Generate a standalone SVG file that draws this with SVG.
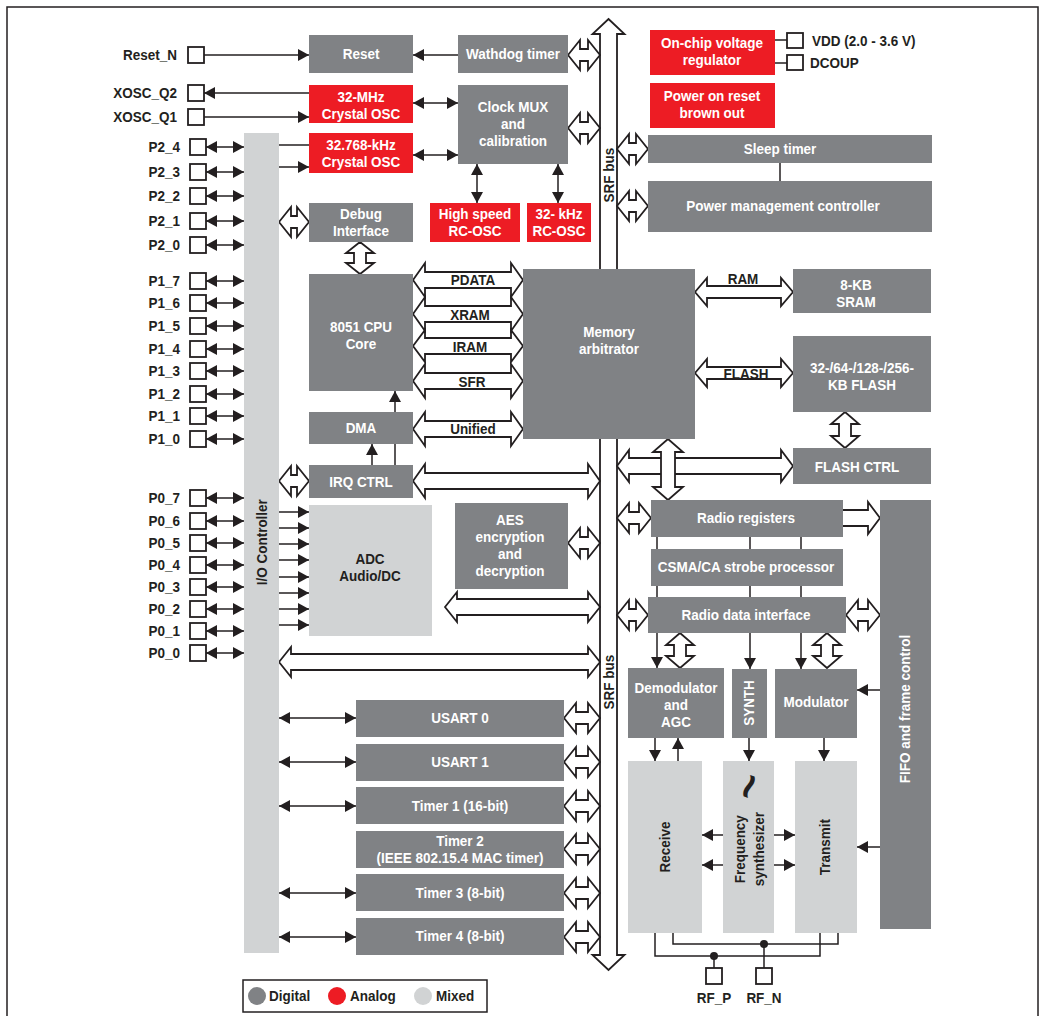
<svg xmlns="http://www.w3.org/2000/svg" width="1042" height="1016" viewBox="0 0 1042 1016">
<style>
.g{fill:#808285}.r{fill:#ED1C24}.m{fill:#D1D3D4}
.t{font-family:"Liberation Sans",Arial,sans-serif;font-weight:bold;font-size:15px;text-anchor:middle;dominant-baseline:central;transform-box:fill-box;transform-origin:center;transform:scaleX(.9)}
.e{text-anchor:end;transform-origin:right center}.s{text-anchor:start;transform-origin:left center}
.v{transform:rotate(-90deg) scaleX(.9)}
.tl{font-size:44px;transform:rotate(-70deg)}
.w{fill:#fff}.k{fill:#231f20}
.ln{stroke:#231f20;stroke-width:1.5;fill:none}
.ha{fill:#fff;stroke:#231f20;stroke-width:1.8;stroke-linejoin:miter}
.pin{fill:#fff;stroke:#231f20;stroke-width:1.8}
.ae{marker-end:url(#ah)}.ab{marker-start:url(#ah);marker-end:url(#ah)}
</style>
<defs>
<marker id="ah" viewBox="0 0 11 12" refX="11" refY="6" markerWidth="11" markerHeight="12" markerUnits="userSpaceOnUse" orient="auto-start-reverse"><path d="M0,0L11,6L0,12z" fill="#231f20"/></marker>
</defs>
<rect x="7" y="7" width="1031" height="1020" fill="#fff" stroke="#231f20" stroke-width="1.5"/>

<g id="srf-bus">
<path class="ha" d="M608.5 19 L624.5 34 L617 34 L617 955 L624.5 955 L608.5 970 L592.5 955 L600 955 L600 34 L592.5 34 Z"/>
<text class="t k v" x="608.5" y="175">SRF bus</text>
<text class="t k v" x="608.5" y="682">SRF bus</text>
</g>

<g id="connectors">
<line class="ln ae" x1="204" y1="55" x2="309" y2="55"/>
<line class="ln ae" x1="458" y1="55" x2="413" y2="55"/>
<line class="ln ae" x1="309" y1="93" x2="204" y2="93"/>
<line class="ln ae" x1="204" y1="117" x2="309" y2="117"/>
<line class="ln ab" x1="413" y1="103" x2="458" y2="103"/>
<line class="ln ab" x1="413" y1="155" x2="458" y2="155"/>
<line class="ln" x1="279" y1="145" x2="309" y2="145" stroke-width="2"/>
<line class="ln ae" x1="279" y1="167" x2="309" y2="167"/>
<line class="ln ab" x1="477" y1="164" x2="477" y2="203"/>
<line class="ln ab" x1="558" y1="164" x2="558" y2="203"/>
<line class="ln" x1="775" y1="40" x2="787" y2="40"/>
<line class="ln" x1="775" y1="63" x2="787" y2="63"/>
<line class="ln" x1="780" y1="163" x2="780" y2="181"/>
<g class="ln ab">
<line x1="206" y1="147" x2="244" y2="147"/><line x1="206" y1="172" x2="244" y2="172"/><line x1="206" y1="196" x2="244" y2="196"/><line x1="206" y1="221" x2="244" y2="221"/><line x1="206" y1="245" x2="244" y2="245"/>
<line x1="206" y1="281" x2="244" y2="281"/><line x1="206" y1="303" x2="244" y2="303"/><line x1="206" y1="326" x2="244" y2="326"/><line x1="206" y1="349" x2="244" y2="349"/><line x1="206" y1="371" x2="244" y2="371"/><line x1="206" y1="394" x2="244" y2="394"/><line x1="206" y1="416" x2="244" y2="416"/><line x1="206" y1="439" x2="244" y2="439"/>
<line x1="206" y1="498" x2="244" y2="498"/><line x1="206" y1="521" x2="244" y2="521"/><line x1="206" y1="543" x2="244" y2="543"/><line x1="206" y1="565" x2="244" y2="565"/><line x1="206" y1="587" x2="244" y2="587"/><line x1="206" y1="609" x2="244" y2="609"/><line x1="206" y1="631" x2="244" y2="631"/><line x1="206" y1="653" x2="244" y2="653"/>
<line x1="279" y1="718" x2="356" y2="718"/><line x1="279" y1="762" x2="356" y2="762"/><line x1="279" y1="806" x2="356" y2="806"/><line x1="279" y1="893" x2="356" y2="893"/><line x1="279" y1="937" x2="356" y2="937"/>
</g>
<g class="ln ae">
<line x1="279" y1="512" x2="309" y2="512"/><line x1="279" y1="528" x2="309" y2="528"/><line x1="279" y1="544" x2="309" y2="544"/><line x1="279" y1="560" x2="309" y2="560"/><line x1="279" y1="577" x2="309" y2="577"/><line x1="279" y1="593" x2="309" y2="593"/><line x1="279" y1="609" x2="309" y2="609"/><line x1="279" y1="625" x2="309" y2="625"/>
</g>
<line class="ln ae" x1="395" y1="412" x2="395" y2="391"/>
<line class="ln" x1="395" y1="465" x2="395" y2="444"/>
<line class="ln ae" x1="372" y1="465" x2="372" y2="444"/>
<path class="ha" d="M568 55 L580 40 L580 49 L588 49 L588 40 L600 55 L588 70 L588 61 L580 61 L580 70 Z"/>
<path class="ha" d="M568 128 L580 113 L580 122 L588 122 L588 113 L600 128 L588 143 L588 134 L580 134 L580 143 Z"/>
<path class="ha" d="M617 149 L629 134 L629 143 L636 143 L636 134 L648 149 L636 164 L636 155 L629 155 L629 164 Z"/>
<path class="ha" d="M617 206 L629 191 L629 200 L636 200 L636 191 L648 206 L636 221 L636 212 L629 212 L629 221 Z"/>
<path class="ha" d="M279 222 L291 207 L291 216 L297 216 L297 207 L309 222 L297 237 L297 228 L291 228 L291 237 Z"/>
<path class="ha" d="M279 481 L291 466 L291 475 L297 475 L297 466 L309 481 L297 496 L297 487 L291 487 L291 496 Z"/>
<path class="ha" d="M568 543 L580 528 L580 537 L588 537 L588 528 L600 543 L588 558 L588 549 L580 549 L580 558 Z"/>
<path class="ha" d="M617 518 L629 503 L629 512 L639 512 L639 503 L651 518 L639 533 L639 524 L629 524 L629 533 Z"/>
<path class="ha" d="M617 615 L629 600 L629 609 L636 609 L636 600 L648 615 L636 630 L636 621 L629 621 L629 630 Z"/>
<path class="ha" d="M846 615 L858 600 L858 609 L868 609 L868 600 L880 615 L868 630 L868 621 L858 621 L858 630 Z"/>
<path class="ha" d="M843 510 L868 510 L868 502 L880 518 L868 534 L868 526 L843 526"/>
<path class="ha" d="M564 718 L576 703 L576 712 L588 712 L588 703 L600 718 L588 733 L588 724 L576 724 L576 733 Z"/>
<path class="ha" d="M564 762 L576 747 L576 756 L588 756 L588 747 L600 762 L588 777 L588 768 L576 768 L576 777 Z"/>
<path class="ha" d="M564 806 L576 791 L576 800 L588 800 L588 791 L600 806 L588 821 L588 812 L576 812 L576 821 Z"/>
<path class="ha" d="M564 849 L576 834 L576 843 L588 843 L588 834 L600 849 L588 864 L588 855 L576 855 L576 864 Z"/>
<path class="ha" d="M564 893 L576 878 L576 887 L588 887 L588 878 L600 893 L588 908 L588 899 L576 899 L576 908 Z"/>
<path class="ha" d="M564 937 L576 922 L576 931 L588 931 L588 922 L600 937 L588 952 L588 943 L576 943 L576 952 Z"/>
<path class="ha" d="M360 242 L374 253 L366 253 L366 263 L374 263 L360 274 L346 263 L354 263 L354 253 L346 253 Z"/>
<path class="ha" d="M845 412 L859 424 L851 424 L851 436 L859 436 L845 448 L831 436 L839 436 L839 424 L831 424 Z"/>
<path class="ha" d="M680 633 L694 645 L686 645 L686 656 L694 656 L680 668 L666 656 L674 656 L674 645 L666 645 Z"/>
<path class="ha" d="M827 633 L841 645 L833 645 L833 656 L841 656 L827 668 L813 656 L821 656 L821 645 L813 645 Z"/>
<path class="ha" d="M413 280 L425 263 L425 272 L511 272 L511 263 L523 280 L511 297 L511 288 L425 288 L425 297 Z"/>
<path class="ha" d="M413 314 L425 297 L425 306 L511 306 L511 297 L523 314 L511 331 L511 322 L425 322 L425 331 Z"/>
<path class="ha" d="M413 346 L425 330 L425 338 L511 338 L511 330 L523 346 L511 362 L511 354 L425 354 L425 362 Z"/>
<path class="ha" d="M413 381 L425 364 L425 373 L511 373 L511 364 L523 381 L511 398 L511 389 L425 389 L425 398 Z"/>
<path class="ha" d="M413 429 L425 412 L425 421 L511 421 L511 412 L523 429 L511 446 L511 437 L425 437 L425 446 Z"/>
<path class="ha" d="M413 481 L425 464 L425 473 L588 473 L588 464 L600 481 L588 498 L588 489 L425 489 L425 498 Z"/>
<path class="ha" d="M695 292 L707 278 L707 286 L781 286 L781 278 L793 292 L781 306 L781 298 L707 298 L707 306 Z"/>
<path class="ha" d="M695 373 L707 359 L707 367 L781 367 L781 359 L793 373 L781 387 L781 379 L707 379 L707 387 Z"/>
<path class="ha" d="M617 466 L629 450 L629 458 L781 458 L781 450 L793 466 L781 482 L781 474 L629 474 L629 482 Z"/>
<path class="ha" d="M668 439 L683 452 L675 452 L675 487 L683 487 L668 500 L653 487 L661 487 L661 452 L653 452 Z"/>
<path class="ha" d="M445 607 L457 592 L457 599 L588 599 L588 592 L600 607 L588 622 L588 615 L457 615 L457 622 Z"/>
<path class="ha" d="M279 662 L291 647 L291 654 L588 654 L588 647 L600 662 L588 677 L588 670 L291 670 L291 677 Z"/>
<text class="t k" x="473" y="280">PDATA</text>
<text class="t k" x="470" y="315">XRAM</text>
<text class="t k" x="470" y="347">IRAM</text>
<text class="t k" x="472" y="382">SFR</text>
<text class="t k" x="473" y="429">Unified</text>
<text class="t k" x="743" y="279">RAM</text>
<text class="t k" x="746" y="374">FLASH</text>
<g class="ln">
<line x1="657" y1="537" x2="657" y2="549"/><line x1="750" y1="537" x2="750" y2="549"/><line x1="801" y1="537" x2="801" y2="549"/>
<line x1="657" y1="586" x2="657" y2="597"/><line x1="750" y1="586" x2="750" y2="597"/><line x1="801" y1="586" x2="801" y2="597"/>
</g>
<line class="ln ae" x1="657" y1="633" x2="657" y2="668"/>
<line class="ln ae" x1="750" y1="633" x2="750" y2="669"/>
<line class="ln ae" x1="801" y1="633" x2="801" y2="669"/>
<line class="ln ae" x1="880" y1="690" x2="857" y2="690"/>
<line class="ln ae" x1="655" y1="738" x2="655" y2="761"/>
<line class="ln ae" x1="678" y1="761" x2="678" y2="738"/>
<line class="ln ae" x1="749" y1="738" x2="749" y2="761"/>
<line class="ln ae" x1="824" y1="738" x2="824" y2="761"/>
<line class="ln ae" x1="880" y1="847" x2="857" y2="847"/>
<line class="ln ae" x1="723" y1="835" x2="702" y2="835"/>
<line class="ln ae" x1="723" y1="865" x2="702" y2="865"/>
<line class="ln ae" x1="774" y1="835" x2="795" y2="835"/>
<line class="ln ae" x1="774" y1="865" x2="795" y2="865"/>
<polyline class="ln" points="655,933 655,956 820,956 820,933" stroke-width="2"/>
<polyline class="ln" points="673,933 673,944 838,944 838,933" stroke-width="2"/>
<line class="ln" x1="714" y1="956" x2="714" y2="968" stroke-width="2"/>
<line class="ln" x1="764" y1="944" x2="764" y2="968" stroke-width="2"/>
<circle cx="714" cy="956" r="4" fill="#231f20"/>
<circle cx="764" cy="944" r="4" fill="#231f20"/>
</g>

<g id="pins">
<rect class="pin" x="188" y="47" width="16" height="16"/><text class="t k e" x="177" y="55">Reset_N</text>
<rect class="pin" x="188" y="85" width="16" height="16"/><text class="t k e" x="177" y="93">XOSC_Q2</text>
<rect class="pin" x="188" y="109" width="16" height="16"/><text class="t k e" x="177" y="117">XOSC_Q1</text>
<rect class="pin" x="190" y="139" width="16" height="16"/><text class="t k e" x="180" y="147">P2_4</text>
<rect class="pin" x="190" y="164" width="16" height="16"/><text class="t k e" x="180" y="172">P2_3</text>
<rect class="pin" x="190" y="188" width="16" height="16"/><text class="t k e" x="180" y="196">P2_2</text>
<rect class="pin" x="190" y="213" width="16" height="16"/><text class="t k e" x="180" y="221">P2_1</text>
<rect class="pin" x="190" y="237" width="16" height="16"/><text class="t k e" x="180" y="245">P2_0</text>
<rect class="pin" x="190" y="273" width="16" height="16"/><text class="t k e" x="180" y="281">P1_7</text>
<rect class="pin" x="190" y="295" width="16" height="16"/><text class="t k e" x="180" y="303">P1_6</text>
<rect class="pin" x="190" y="318" width="16" height="16"/><text class="t k e" x="180" y="326">P1_5</text>
<rect class="pin" x="190" y="341" width="16" height="16"/><text class="t k e" x="180" y="349">P1_4</text>
<rect class="pin" x="190" y="363" width="16" height="16"/><text class="t k e" x="180" y="371">P1_3</text>
<rect class="pin" x="190" y="386" width="16" height="16"/><text class="t k e" x="180" y="394">P1_2</text>
<rect class="pin" x="190" y="408" width="16" height="16"/><text class="t k e" x="180" y="416">P1_1</text>
<rect class="pin" x="190" y="431" width="16" height="16"/><text class="t k e" x="180" y="439">P1_0</text>
<rect class="pin" x="190" y="490" width="16" height="16"/><text class="t k e" x="180" y="498">P0_7</text>
<rect class="pin" x="190" y="513" width="16" height="16"/><text class="t k e" x="180" y="521">P0_6</text>
<rect class="pin" x="190" y="535" width="16" height="16"/><text class="t k e" x="180" y="543">P0_5</text>
<rect class="pin" x="190" y="557" width="16" height="16"/><text class="t k e" x="180" y="565">P0_4</text>
<rect class="pin" x="190" y="579" width="16" height="16"/><text class="t k e" x="180" y="587">P0_3</text>
<rect class="pin" x="190" y="601" width="16" height="16"/><text class="t k e" x="180" y="609">P0_2</text>
<rect class="pin" x="190" y="623" width="16" height="16"/><text class="t k e" x="180" y="631">P0_1</text>
<rect class="pin" x="190" y="645" width="16" height="16"/><text class="t k e" x="180" y="653">P0_0</text>
<rect class="pin" x="787" y="33" width="16" height="15"/><text class="t k s" x="812" y="41">VDD (2.0 - 3.6 V)</text>
<rect class="pin" x="787" y="55" width="16" height="15"/><text class="t k s" x="810" y="63">DCOUP</text>
<rect class="pin" x="706" y="968" width="16" height="16"/><text class="t k" x="714" y="998">RF_P</text>
<rect class="pin" x="756" y="968" width="16" height="16"/><text class="t k" x="764" y="998">RF_N</text>
</g>

<g id="reset"><rect class="g" x="309" y="35" width="104" height="38"/><text class="t w" x="361" y="54">Reset</text></g>
<g id="watchdog"><rect class="g" x="458" y="35" width="110" height="38"/><text class="t w" x="513" y="54">Wathdog timer</text></g>
<g id="osc32m"><rect class="r" x="309" y="85" width="104" height="38"/><text class="t w"><tspan x="361" y="96.5">32-MHz</tspan><tspan x="361" y="113.5">Crystal OSC</tspan></text></g>
<g id="clockmux"><rect class="g" x="458" y="85" width="110" height="79"/><text class="t w"><tspan x="513" y="106.5">Clock MUX</tspan><tspan x="513" y="123.5">and</tspan><tspan x="513" y="140.5">calibration</tspan></text></g>
<g id="osc32k"><rect class="r" x="309" y="133" width="104" height="40"/><text class="t w"><tspan x="361" y="145">32.768-kHz</tspan><tspan x="361" y="162">Crystal OSC</tspan></text></g>
<g id="hsrc"><rect class="r" x="430" y="203" width="90" height="39"/><text class="t w"><tspan x="475" y="214">High speed</tspan><tspan x="475" y="231">RC-OSC</tspan></text></g>
<g id="rc32k"><rect class="r" x="527" y="203" width="64" height="39"/><text class="t w"><tspan x="559" y="214">32- kHz</tspan><tspan x="559" y="231">RC-OSC</tspan></text></g>
<g id="vreg"><rect class="r" x="650" y="30" width="125" height="45"/><text class="t w"><tspan x="712" y="42.5">On-chip voltage</tspan><tspan x="712" y="59.5">regulator</tspan></text></g>
<g id="por"><rect class="r" x="650" y="83" width="125" height="45"/><text class="t w"><tspan x="712" y="95.5">Power on reset</tspan><tspan x="712" y="112.5">brown out</tspan></text></g>
<g id="sleep"><rect class="g" x="648" y="135" width="284" height="28"/><text class="t w" x="780" y="149">Sleep timer</text></g>
<g id="pmc"><rect class="g" x="648" y="181" width="284" height="51"/><text class="t w" x="783" y="206">Power management controller</text></g>
<g id="io"><rect class="m" x="244" y="133" width="35" height="820"/><text class="t k v" x="262" y="542">I/O Controller</text></g>
<g id="debug"><rect class="g" x="309" y="203" width="104" height="39"/><text class="t w"><tspan x="361" y="214">Debug</tspan><tspan x="361" y="231">Interface</tspan></text></g>
<g id="cpu"><rect class="g" x="309" y="274" width="104" height="117"/><text class="t w"><tspan x="361" y="326.5">8051 CPU</tspan><tspan x="361" y="343.5">Core</tspan></text></g>
<g id="dma"><rect class="g" x="309" y="412" width="104" height="32"/><text class="t w" x="361" y="428">DMA</text></g>
<g id="irq"><rect class="g" x="309" y="465" width="104" height="33"/><text class="t w" x="361" y="482">IRQ CTRL</text></g>
<g id="memarb"><rect class="g" x="523" y="269" width="172" height="170"/><text class="t w"><tspan x="609" y="331.5">Memory</tspan><tspan x="609" y="348.5">arbitrator</tspan></text></g>
<g id="sram"><rect class="g" x="793" y="269" width="138" height="44"/><text class="t w"><tspan x="856" y="284.5">8-KB</tspan><tspan x="856" y="301.5">SRAM</tspan></text></g>
<g id="flash"><rect class="g" x="793" y="336" width="138" height="76"/><text class="t w"><tspan x="862" y="367.5">32-/64-/128-/256-</tspan><tspan x="862" y="384.5">KB FLASH</tspan></text></g>
<g id="flashctrl"><rect class="g" x="793" y="448" width="138" height="36"/><text class="t w" x="857" y="467">FLASH CTRL</text></g>
<g id="adc"><rect class="m" x="309" y="505" width="123" height="131"/><text class="t k"><tspan x="370" y="558.5">ADC</tspan><tspan x="370" y="575.5">Audio/DC</tspan></text></g>
<g id="aes"><rect class="g" x="455" y="503" width="113" height="86"/><text class="t w"><tspan x="510" y="519.5">AES</tspan><tspan x="510" y="536.5">encryption</tspan><tspan x="510" y="553.5">and</tspan><tspan x="510" y="570.5">decryption</tspan></text></g>
<g id="radioregs"><rect class="g" x="651" y="500" width="192" height="37"/><text class="t w" x="746" y="518">Radio registers</text></g>
<g id="csma"><rect class="g" x="651" y="549" width="192" height="37"/><text class="t w" x="746" y="567">CSMA/CA strobe processor</text></g>
<g id="rdi"><rect class="g" x="648" y="597" width="198" height="36"/><text class="t w" x="746" y="615">Radio data interface</text></g>
<g id="fifo"><rect class="g" x="880" y="500" width="51" height="429"/><text class="t w v" x="905" y="709">FIFO and frame control</text></g>
<g id="demod"><rect class="g" x="628" y="668" width="96" height="70"/><text class="t w"><tspan x="676" y="687.5">Demodulator</tspan><tspan x="676" y="704.5">and</tspan><tspan x="676" y="721.5">AGC</tspan></text></g>
<g id="synth"><rect class="g" x="732" y="669" width="35" height="69"/><text class="t w v" x="749" y="703">SYNTH</text></g>
<g id="modulator"><rect class="g" x="775" y="669" width="82" height="69"/><text class="t w" x="816" y="702">Modulator</text></g>
<g id="receive"><rect class="m" x="628" y="761" width="74" height="172"/><text class="t k v" x="665" y="847">Receive</text></g>
<g id="freqsynth"><rect class="m" x="723" y="761" width="51" height="172"/><text class="t k tl" x="748" y="786">~</text><text class="t k v"><tspan x="749.5" y="839.5">Frequency</tspan><tspan x="749.5" y="858.5">synthesizer</tspan></text></g>
<g id="transmit"><rect class="m" x="795" y="761" width="62" height="172"/><text class="t k v" x="825" y="847">Transmit</text></g>
<g id="usart0"><rect class="g" x="356" y="700" width="208" height="37"/><text class="t w" x="460" y="718">USART 0</text></g>
<g id="usart1"><rect class="g" x="356" y="744" width="208" height="37"/><text class="t w" x="460" y="762">USART 1</text></g>
<g id="timer1"><rect class="g" x="356" y="787" width="208" height="37"/><text class="t w" x="460" y="806">Timer 1 (16-bit)</text></g>
<g id="timer2"><rect class="g" x="356" y="831" width="208" height="37"/><text class="t w"><tspan x="460" y="840.5">Timer 2</tspan><tspan x="460" y="857.5">(IEEE 802.15.4 MAC timer)</tspan></text></g>
<g id="timer3"><rect class="g" x="356" y="874" width="208" height="37"/><text class="t w" x="460" y="893">Timer 3 (8-bit)</text></g>
<g id="timer4"><rect class="g" x="356" y="918" width="208" height="37"/><text class="t w" x="460" y="936">Timer 4 (8-bit)</text></g>

<g id="legend">
<rect x="243" y="980" width="244" height="32" fill="#fff" stroke="#231f20" stroke-width="1.5"/>
<circle class="g" cx="257" cy="996" r="9"/><text class="t k s" x="269" y="996">Digital</text>
<circle class="r" cx="337" cy="996" r="9"/><text class="t k s" x="350" y="996">Analog</text>
<circle class="m" cx="423" cy="996" r="9"/><text class="t k s" x="436" y="996">Mixed</text>
</g>
</svg>
